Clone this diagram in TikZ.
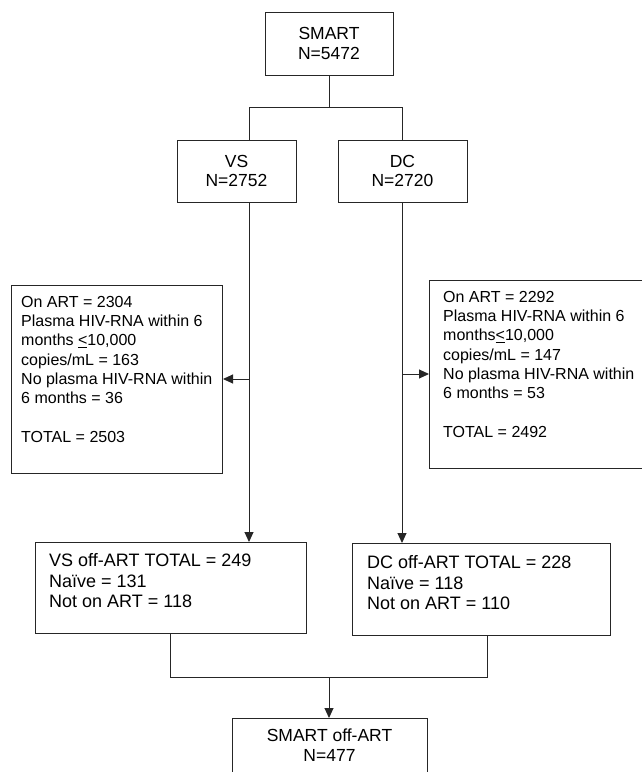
\documentclass[tikz,border=0pt]{standalone}
\usepackage{fontspec}
\setmainfont{Liberation Sans}
\usetikzlibrary{arrows.meta}

\tikzset{
  box/.style={draw=black!85, line width=1pt, rectangle, inner sep=0pt},
  midtext/.style={font=\fontsize{17.5}{19.5}\selectfont, align=center},
  sidetext/.style={font=\fontsize{16}{19.3}\selectfont, align=left, anchor=north west, inner sep=0pt},
  offtext/.style={font=\fontsize{18}{20.8}\selectfont, align=left, anchor=north west, inner sep=0pt},
  flow/.style={draw=black!85, line width=1pt},
  arr/.style={flow, -{Triangle[length=10pt,width=9pt]}},
}

\begin{document}
\begin{tikzpicture}[x=1pt,y=-1pt]
  \useasboundingbox (0,0) rectangle (641,772);
  % boxes
  \node[box, midtext, minimum width=128pt, minimum height=63pt] (smart) at (329,43.5) {SMART\\N=5472};
  \node[box, midtext, minimum width=119pt, minimum height=62pt] (vs) at (236.5,171) {VS\\N=2752};
  \node[box, midtext, minimum width=129pt, minimum height=62pt] (dc) at (402.5,171) {DC\\N=2720};
  \node[box, anchor=north west, minimum width=211pt, minimum height=188pt] (vsart) at (11,285) {};
  \node[box, anchor=north west, minimum width=231pt, minimum height=188pt] (dcart) at (429,280) {};
  \node[box, anchor=north west, minimum width=271pt, minimum height=91pt] (vsoff) at (35,542) {};
  \node[box, anchor=north west, minimum width=258pt, minimum height=92pt] (dcoff) at (352,543) {};
  \node[box, anchor=north, minimum width=195pt, minimum height=80pt] (total) at (329.5,718) {};
  % texts
  \node[sidetext] (vsarttext) at (21,296) {On ART = 2304\\Plasma HIV-RNA within 6\\months \underline{<}10,000\\copies/mL = 163\\No plasma HIV-RNA within\\6 months = 36\\[19.3pt]TOTAL = 2503};
  \node[sidetext] (dcarttext) at (443,291) {On ART = 2292\\Plasma HIV-RNA within 6\\months\underline{<}10,000\\copies/mL = 147\\No plasma HIV-RNA within\\6 months = 53\\[19.3pt]TOTAL = 2492};
  \node[offtext] (vsofftext) at (49,553) {VS off-ART TOTAL = 249\\Naïve = 131\\Not on ART = 118};
  \node[offtext] (dcofftext) at (367,555) {DC off-ART TOTAL = 228\\Naïve = 118\\Not on ART = 110};
  \node[midtext, anchor=north, inner sep=0pt] (totaltext) at (329.5,729) {SMART off-ART\\N=477};
  % split
  \draw[flow] (smart.south) -- ++(0,32) coordinate (split);
  \coordinate (vstrunk) at (249,202);
  \coordinate (dctrunk) at (402,202);
  \draw[flow] (vstrunk |- vs.north) |- (split) -| (dctrunk |- dc.north);
  % trunks
  \draw[arr] (vstrunk) -- (vstrunk |- vsoff.north);
  \draw[arr] (dctrunk) -- (dctrunk |- dcoff.north);
  \coordinate (vsbranch) at (249,379);
  \coordinate (dcbranch) at (402,374);
  \draw[arr] (vsbranch) -- (vsbranch -| vsart.east);
  \draw[arr] (dcbranch) -- (dcbranch -| dcart.west);
  % merge
  \coordinate (vsdrop) at (170,633);
  \coordinate (dcdrop) at (487,635);
  \coordinate (merge) at (329,677);
  \draw[flow] (vsdrop) |- (dcdrop |- merge) -- (dcdrop);
  \draw[arr] (merge) -- (merge |- total.north);
\end{tikzpicture}
\end{document}
